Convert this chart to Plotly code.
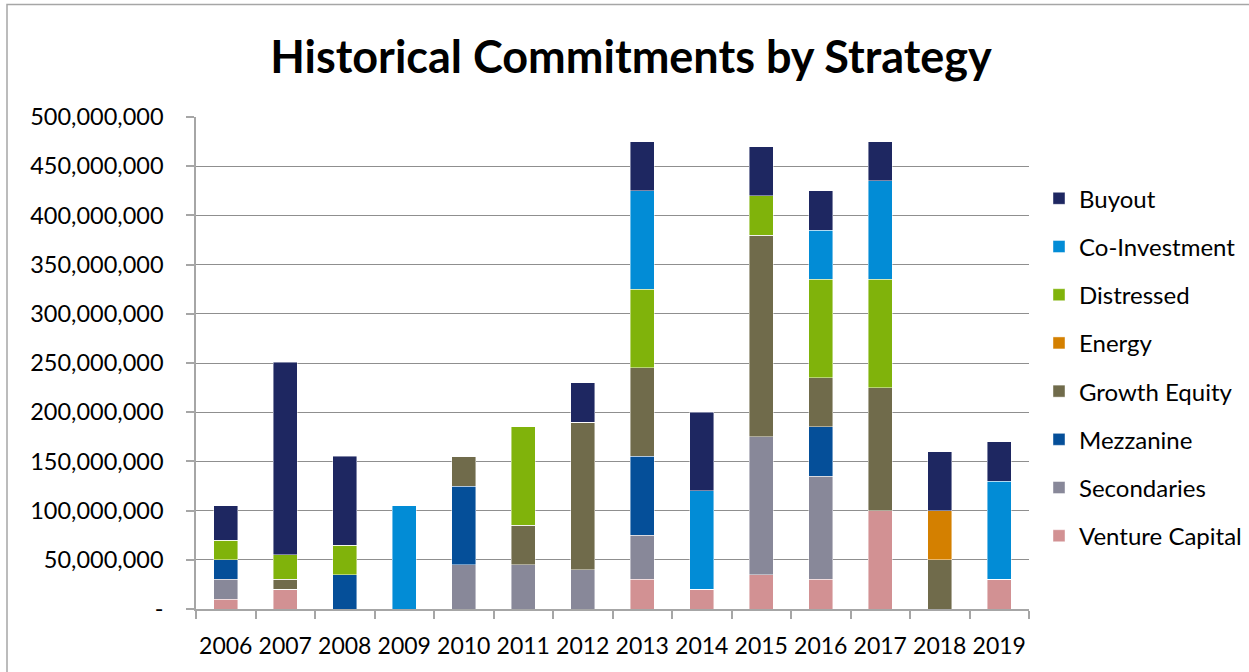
import plotly.graph_objects as go

years = ["2006", "2007", "2008", "2009", "2010", "2011", "2012",
         "2013", "2014", "2015", "2016", "2017", "2018", "2019"]

# values in USD, per strategy and year
venture_capital = [10e6, 20e6, 0, 0, 0, 0, 0, 30e6, 20e6, 35e6, 30e6, 100e6, 0, 30e6]
secondaries     = [20e6, 0, 0, 0, 45e6, 45e6, 40e6, 45e6, 0, 140e6, 105e6, 0, 0, 0]
mezzanine       = [20e6, 0, 35e6, 0, 80e6, 0, 0, 80e6, 0, 0, 50e6, 0, 0, 0]
growth_equity   = [0, 10e6, 0, 0, 30e6, 40e6, 150e6, 90e6, 0, 205e6, 50e6, 125e6, 50e6, 0]
energy          = [0, 0, 0, 0, 0, 0, 0, 0, 0, 0, 0, 0, 50e6, 0]
distressed      = [20e6, 25e6, 30e6, 0, 0, 100e6, 0, 80e6, 0, 40e6, 100e6, 110e6, 0, 0]
co_investment   = [0, 0, 0, 105e6, 0, 0, 0, 100e6, 100e6, 0, 50e6, 100e6, 0, 100e6]
buyout          = [35e6, 196e6, 90e6, 0, 0, 0, 40e6, 50e6, 80e6, 50e6, 40e6, 40e6, 60e6, 40e6]

# stacked bottom -> top
series = [
    ("Venture Capital", venture_capital, "#d29193"),
    ("Secondaries", secondaries, "#888899"),
    ("Mezzanine", mezzanine, "#054f99"),
    ("Growth Equity", growth_equity, "#706b4b"),
    ("Energy", energy, "#d48000"),
    ("Distressed", distressed, "#80b30b"),
    ("Co-Investment", co_investment, "#028cd6"),
    ("Buyout", buyout, "#1e2761"),
]

y_tickvals = [0, 50e6, 100e6, 150e6, 200e6, 250e6, 300e6, 350e6, 400e6, 450e6, 500e6]
y_ticktext = ["-"] + [f"{int(v):,}" for v in y_tickvals[1:]]

FONT = "Lato"

fig = go.Figure()
n = len(series)
for i, (name, vals, color) in enumerate(series):
    fig.add_trace(go.Bar(
        x=years, y=vals, name=name, legendgroup=name, legendrank=1000 + (n - i),
        marker=dict(color=color, line=dict(color="rgba(255,255,255,0.55)", width=0.8)),
    ))

W, H = 1249, 672
L, R, T, B = 196, 1029, 116.7, 609.3
fig.update_layout(
    width=W, height=H,
    margin=dict(l=L, r=W - R, t=T, b=H - B, autoexpand=False),
    barmode="stack", bargap=0.6,
    paper_bgcolor="white", plot_bgcolor="white",
    font=dict(family=FONT, size=23, color="black"),
    title=dict(text="<b>Historical Commitments by Strategy</b>",
               font=dict(family=FONT, size=45, color="black"),
               xref="container", x=631 / W, xanchor="center",
               yref="container", y=1 - 57 / H, yanchor="middle"),
    legend=dict(traceorder="grouped", tracegroupgap=14,
                x=(1039 - L) / (R - L), xanchor="left",
                y=(B - 176) / (B - T), yanchor="top",
                font=dict(family=FONT, size=24, color="black"),
                bgcolor="rgba(0,0,0,0)"),
    showlegend=True,
)
fig.update_yaxes(range=[0, 500e6], tickvals=y_tickvals, ticktext=y_ticktext,
                 showgrid=True, gridcolor="#8f8f8f", gridwidth=1,
                 showline=True, linecolor="#a6a6a6", linewidth=1.5,
                 ticks="outside", ticklen=8, tickcolor="#a6a6a6", tickwidth=1.5,
                 ticklabelstandoff=18, zeroline=False,
                 tickfont=dict(family=FONT, size=23.5, color="black"))
fig.update_xaxes(type="category", tickson="boundaries", tickangle=0,
                 showline=True, linecolor="#a6a6a6", linewidth=1.5,
                 ticks="outside", ticklen=8, tickcolor="#a6a6a6", tickwidth=1.5,
                 showgrid=False, ticklabelstandoff=16,
                 tickfont=dict(family=FONT, size=23, color="black"))
# chart area border (top and left visible)
fig.add_shape(type="rect", xref="paper", yref="paper",
              x0=(7 - L) / (R - L), x1=(1300 - L) / (R - L),
              y0=(B - 700) / (B - T), y1=(B - 4) / (B - T),
              line=dict(color="#a6a6a6", width=1.5), fillcolor="rgba(0,0,0,0)", layer="below")

fig.write_html("out.html", config={"displayModeBar": False},
               post_script="document.body.style.margin='0';document.body.style.overflow='hidden';")
